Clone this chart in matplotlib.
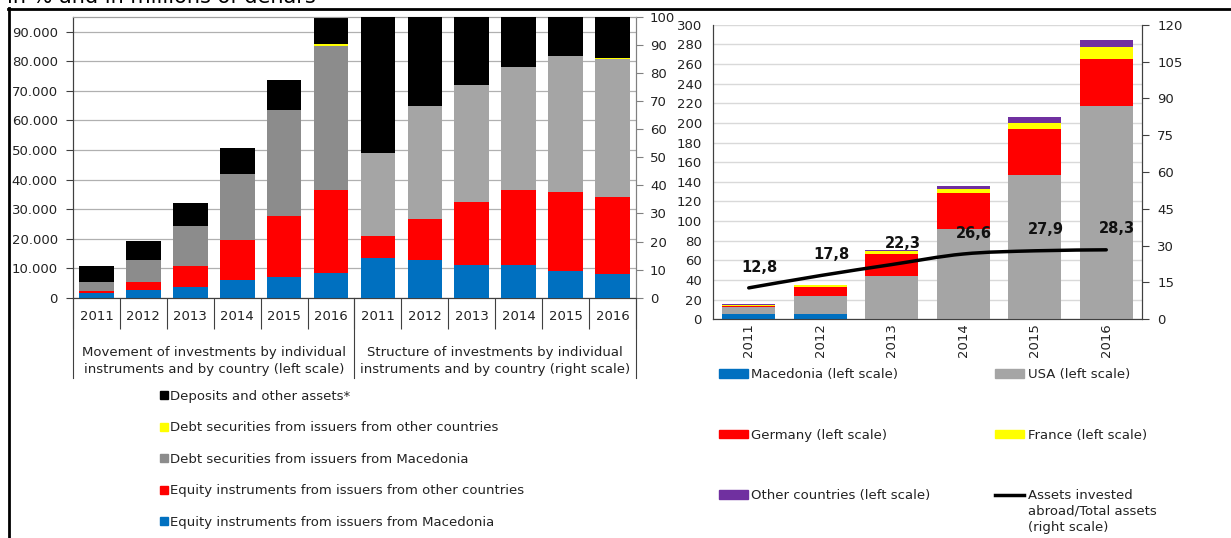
import numpy as np
import matplotlib
matplotlib.use('Agg')
import matplotlib.pyplot as plt
from matplotlib.lines import Line2D
from matplotlib.patches import Patch, PathPatch
from matplotlib.path import Path
from matplotlib.ticker import FuncFormatter, MultipleLocator, FixedLocator

plt.rcParams['font.family'] = ['DejaVu Sans']

years = ['2011', '2012', '2013', '2014', '2015', '2016']

# left panel, movement (millions of denars)
mkd_equity = [1470, 2600, 3620, 5880, 7010, 8370]
foreign_equity = [790, 2830, 7010, 13690, 20480, 27940]
mkd_debt = [3170, 7470, 13470, 22290, 35970, 48870]
foreign_debt = [0, 0, 0, 0, 0, 790]
deposits = [5430, 6200, 7800, 8820, 10300, 14130]

# left panel, structure (%)
mkd_equity_pct = [14.3, 13.6, 11.5, 11.5, 9.6, 8.6]
foreign_equity_pct = [7.7, 14.6, 22.5, 26.7, 27.9, 27.3]
mkd_debt_pct = [29.4, 40.1, 41.6, 44.0, 48.5, 49.2]
foreign_debt_pct = [0.0, 0.0, 0.0, 0.0, 0.0, 0.3]
deposits_pct = [48.6, 31.7, 24.4, 17.8, 14.0, 14.6]

# right panel, assets invested abroad by country
macedonia = [5.3, 5.3, 0, 0, 0, 0]
usa = [7.0, 18.4, 44.1, 91.6, 146.6, 216.9]
germany = [1.7, 9.3, 22.8, 37.4, 47.5, 48.5]
france = [0.3, 1.7, 2.3, 3.4, 6.1, 11.9]
other = [1.0, 0.6, 1.4, 3.4, 5.8, 7.1]
abroad_share = [12.8, 17.8, 22.3, 26.6, 27.9, 28.3]

BLUE = '#0070C0'
RED = '#FF0000'
GRAY_D = '#8C8C8C'
GRAY_L = '#A5A5A5'
YELLOW = '#FFFF00'
PURPLE = '#7030A0'

W, H = 1231, 538
fig = plt.figure(figsize=(W / 100, H / 100), dpi=100)

# ---------------- left panel ----------------
ax1 = fig.add_axes([73 / W, 1 - 297.7 / H, (636 - 73) / W, (297.7 - 17) / H])
ax2 = ax1.twinx()

def stack(ax, xs, series, colors, width=0.74):
    bottom = np.zeros(len(xs))
    for vals, c in zip(series, colors):
        ax.bar(xs, vals, width, bottom=bottom, color=c, linewidth=0, zorder=3)
        bottom += np.array(vals, dtype=float)

cols_left = [BLUE, RED, GRAY_D, YELLOW, 'black']
stack(ax1, np.arange(6), [mkd_equity, foreign_equity, mkd_debt, foreign_debt, deposits], cols_left)
cols_right = [BLUE, RED, GRAY_L, YELLOW, 'black']
stack(ax2, np.arange(6, 12), [mkd_equity_pct, foreign_equity_pct, mkd_debt_pct, foreign_debt_pct, deposits_pct], cols_right)

ax1.set_xlim(-0.5, 11.5)
ax1.set_ylim(0, 95000)
ax2.set_ylim(0, 100)
ax1.yaxis.set_major_locator(MultipleLocator(10000))
ax1.yaxis.set_major_formatter(FuncFormatter(lambda v, p: f'{v:,.0f}'.replace(',', '.')))
ax2.yaxis.set_major_locator(MultipleLocator(10))
ax1.grid(axis='y', color='#B0B0B0', linewidth=0.9, zorder=0)
ax1.set_axisbelow(True)

for a in (ax1, ax2):
    a.spines['top'].set_color('#A0A0A0')
    a.spines['right'].set_color('#808080')
    a.spines['left'].set_color('#404040')
    a.spines['bottom'].set_color('#404040')
ax1.tick_params(axis='y', length=5, width=0.8, color='#404040', labelsize=9.5, pad=6, labelcolor='#222222')
ax2.tick_params(axis='y', length=5, width=0.8, color='#808080', labelsize=9.5, pad=5, labelcolor='#222222')

# year separators as major ticks, year labels as minor ticks
ax1.xaxis.set_major_locator(FixedLocator(np.arange(-0.5, 12, 1)))
ax1.xaxis.set_major_formatter(FuncFormatter(lambda v, p: ''))
ax1.xaxis.set_minor_locator(FixedLocator(np.arange(12)))
ax1.set_xticklabels(years + years, minor=True)
ax1.tick_params(axis='x', which='major', length=22, width=0.8, color='#404040')
ax1.tick_params(axis='x', which='minor', length=0, pad=9, labelsize=9.5, labelcolor='#222222')

for xb in (-0.5, 5.5, 11.5):
    ax1.plot([xb, xb], [0, -0.286], transform=ax1.get_xaxis_transform(),
             color='#404040', linewidth=0.8, clip_on=False)

ax1.text(2.5, -0.225, 'Movement of investments by individual\ninstruments and by country (left scale)',
         transform=ax1.get_xaxis_transform(), ha='center', va='center', fontsize=9.5,
         color='#222222', linespacing=1.4)
ax1.text(8.5, -0.225, 'Structure of investments by individual\ninstruments and by country (right scale)',
         transform=ax1.get_xaxis_transform(), ha='center', va='center', fontsize=9.5,
         color='#222222', linespacing=1.4)

left_handles = [Line2D([], [], marker='s', color=c, linestyle='none', markersize=6)
                for c in ['black', YELLOW, GRAY_D, RED, BLUE]]
left_labels = ['Deposits and other assets*',
               'Debt securities from issuers from other countries',
               'Debt securities from issuers from Macedonia',
               'Equity instruments from issuers from other countries',
               'Equity instruments from issuers from Macedonia']
fig.legend(left_handles, left_labels, loc='upper left', bbox_to_anchor=(160 / W, 1 - 390 / H),
           frameon=False, fontsize=9.5, handlelength=0.6, handletextpad=0.15,
           labelspacing=1.4, borderpad=0, borderaxespad=0, labelcolor='#222222')

# ---------------- right panel ----------------
ax3 = fig.add_axes([713 / W, 1 - 319.3 / H, (1142 - 713) / W, (319.3 - 24.7) / H])
ax4 = ax3.twinx()
xr = np.arange(6)
stack(ax3, xr, [macedonia, usa, germany, france, other], [BLUE, GRAY_L, RED, YELLOW, PURPLE], width=0.74)
ax3.set_xlim(-0.5, 5.5)
ax3.set_ylim(0, 300)
ax4.set_ylim(0, 120)
ax3.yaxis.set_major_locator(MultipleLocator(20))
ax4.yaxis.set_major_locator(MultipleLocator(15))
ax3.grid(axis='y', color='#D9D9D9', linewidth=1.0, zorder=0)
ax3.set_axisbelow(True)
ax3.set_xticks(xr)
ax3.set_xticklabels(years, rotation=90)
ax3.tick_params(axis='x', length=0, pad=3, labelsize=9.5, labelcolor='#222222')
ax3.tick_params(axis='y', length=0, pad=8, labelsize=9.5, labelcolor='#222222')
ax4.tick_params(axis='y', length=5, width=0.8, color='#404040', pad=6, labelsize=9.5, labelcolor='#222222')
for a in (ax3, ax4):
    a.spines['top'].set_visible(False)
    for s in ('left', 'right', 'bottom'):
        a.spines[s].set_color('#404040')

# smoothed line through the points (Bezier segments, Catmull-Rom style)
pts = np.column_stack([xr, abroad_share]).astype(float)
ext = np.vstack([pts[0], pts, pts[-1]])
verts = [tuple(pts[0])]
codes = [Path.MOVETO]
for i in range(len(pts) - 1):
    p0, p1, p2, p3 = ext[i], ext[i + 1], ext[i + 2], ext[i + 3]
    verts += [tuple(p1 + (p2 - p0) / 6), tuple(p2 - (p3 - p1) / 6), tuple(p2)]
    codes += [Path.CURVE4] * 3
ax4.add_patch(PathPatch(Path(verts, codes), facecolor='none', edgecolor='black',
                        linewidth=2.5, capstyle='round', zorder=5))
for xi, v in zip(xr, abroad_share):
    ax4.annotate(f'{v:.1f}'.replace('.', ','), (xi, v), xytext=(8, 15), textcoords='offset points',
                 ha='center', va='center', fontsize=10.5, fontweight='bold', color='#111111')

right_handles = [Patch(color=BLUE), Patch(color=RED), Patch(color=PURPLE),
                 Patch(color=GRAY_L), Patch(color=YELLOW), Line2D([], [], color='black', linewidth=2.5)]
right_labels = ['Macedonia (left scale)', 'Germany (left scale)', 'Other countries (left scale)',
                'USA (left scale)', 'France (left scale)', 'Assets invested']
fig.legend(right_handles, right_labels, loc='upper left', bbox_to_anchor=(719 / W, 1 - 368 / H),
           ncol=2, frameon=False, fontsize=9.5, handlelength=2.2, handleheight=0.6,
           handletextpad=0.25, labelspacing=3.6, columnspacing=4.9, borderpad=0,
           borderaxespad=0, labelcolor='#222222')
fig.text(1028 / W, 1 - 505 / H, 'abroad/Total assets\n(right scale)', fontsize=9.5,
         va='top', ha='left', color='#222222', linespacing=1.3)

# page frame and cut-off heading
fig.add_artist(Line2D([9 / W, 9 / W], [0, 1 - 8 / H], color='black', linewidth=2))
fig.add_artist(Line2D([8 / W, 1], [1 - 9 / H, 1 - 9 / H], color='black', linewidth=2))
fig.text(7 / W, 1 - 3 / H, 'in % and in millions of denars', fontsize=15, va='baseline', ha='left')

fig.savefig('out.png', dpi=100)
